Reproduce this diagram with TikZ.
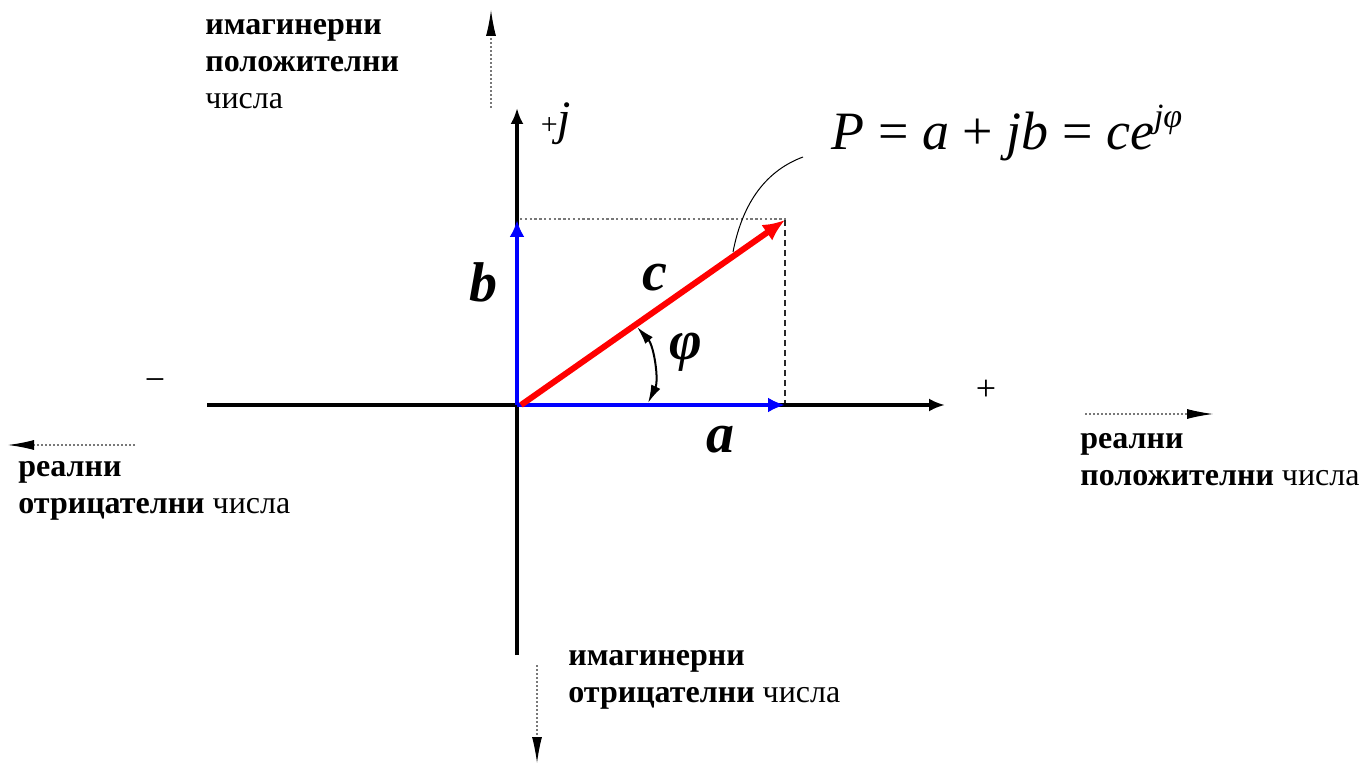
\documentclass[tikz,border=0pt]{standalone}
\usepackage{fontspec}
\setmainfont{Liberation Serif}
\usepackage{tikz}
\usetikzlibrary{
  arrows.meta,
  positioning
}
\definecolor{VecBlue}{RGB}{0, 0, 255}
\definecolor{VecRed}{RGB}{255, 0, 0}
\definecolor{HintGray}{RGB}{120, 120, 120}
\definecolor{DarkGray}{RGB}{40, 40, 40}
\tikzset{
    axisline/.style={line width=1.7pt, -{Latex[length=8pt, width=6.5pt]}},
    vecblue/.style={VecBlue, line width=2.3pt, -{Latex[length=8.5pt, width=7.5pt]}},
    vecred/.style={VecRed, line width=3pt, -{Latex[length=11pt, width=9.5pt]}},
    hintarrow/.style={draw=HintGray, line width=0.6pt, dash pattern=on 1pt off 1pt, -{Latex[black, length=13pt, width=5pt]}},
    hint/.style={font=\fontsize{16}{18.5}\selectfont, align=left, inner sep=0pt, anchor=north west},
    veclabel/.style={font=\fontsize{28}{32}\selectfont\bfseries\itshape, inner sep=0pt},
    sign/.style={font=\fontsize{18}{20}\selectfont, inner sep=0pt}
}

\begin{document}
\begin{tikzpicture}[x=0.5pt, y=-0.5pt]
    \useasboundingbox (0,0) rectangle (1368,763);
    % points of the plane
    \coordinate (O) at (517,405);
    \coordinate (xstart) at (207,405);
    \coordinate (xend) at (945,405);
    \coordinate (ybot) at (517,655);
    \coordinate (ytop) at (517,108);
    \coordinate (A) at (785,405);
    \coordinate (B) at (517,220);
    \coordinate (P) at (785,220);
    \coordinate (Bp) at (520,219);
    \coordinate (Pp) at (788,219);
    % projections
    \draw[HintGray, line width=0.6pt, dash pattern=on 1.2pt off 1.2pt] (Bp) -- (Pp);
    \draw[DarkGray, line width=0.6pt, dash pattern=on 3pt off 2pt] (P) -- (A);
    % axes
    \draw[axisline] (xstart) -- (xend);
    \draw[axisline] (ybot) -- (ytop);
    \node[sign] (minus) at (155,385) {−};
    \node[sign] (plus) at (986,390) {+};
    \node[inner sep=0pt] (jlabel) at (556,124) {{\fontsize{15}{15}\selectfont +}{\fontsize{24}{24}\selectfont\itshape j}};
    % vectors
    \draw[vecblue] (O) -- (A);
    \draw[vecblue] (O) -- (B);
    \draw[vecred] ([xshift=2pt]O) -- (P);
    \node[veclabel] (alabel) at (720,440) {a};
    \node[veclabel] (blabel) at (483,282) {b};
    \node[veclabel] (clabel) at (655,278) {c};
    \node[veclabel] (philabel) at (686,352) {φ};
    % angle
    \coordinate (phiA) at (648,403);
    \coordinate (phiB) at (637,327);
    \draw[line width=1pt, {Latex[length=9pt, width=5pt]}-{Latex[length=9pt, width=5pt]}] (phiA) .. controls (659,380) and (654,346) .. (phiB);
    % formula with callout
    \node[font=\fontsize{27}{30}\selectfont, inner sep=0pt] (formula) at (1007,133)
        {\textit{P} = \textit{a} + \textit{jb} = \textit{ce}\raisebox{0.42em}{\fontsize{17}{17}\selectfont\itshape jφ}};
    \coordinate (cstart) at (733,252);
    \coordinate (cend) at (803,157);
    \draw[line width=0.5pt] (cstart) .. controls (743,200) and (768,170) .. (cend);
    % hints
    \coordinate (upS) at (491,108);
    \coordinate (upE) at (491,10);
    \coordinate (leftS) at (135,445);
    \coordinate (leftE) at (8,445);
    \coordinate (rightS) at (1085,414);
    \coordinate (rightE) at (1213,414);
    \coordinate (downS) at (537,665);
    \coordinate (downE) at (537,763);
    \draw[hintarrow] (upS) -- (upE);
    \draw[hintarrow] (leftS) -- (leftE);
    \draw[hintarrow] (rightS) -- (rightE);
    \draw[hintarrow] (downS) -- (downE);
    \node[hint] (imagpos) at (205,19) {\textbf{имагинерни}\\\textbf{положителни}\\числа};
    \node[hint] (realneg) at (18,461) {\textbf{реални}\\\textbf{отрицателни} числа};
    \node[hint] (realpos) at (1080,433) {\textbf{реални}\\\textbf{положителни} числа};
    \node[hint] (imagneg) at (568,650) {\textbf{имагинерни}\\\textbf{отрицателни} числа};
\end{tikzpicture}
\end{document}
